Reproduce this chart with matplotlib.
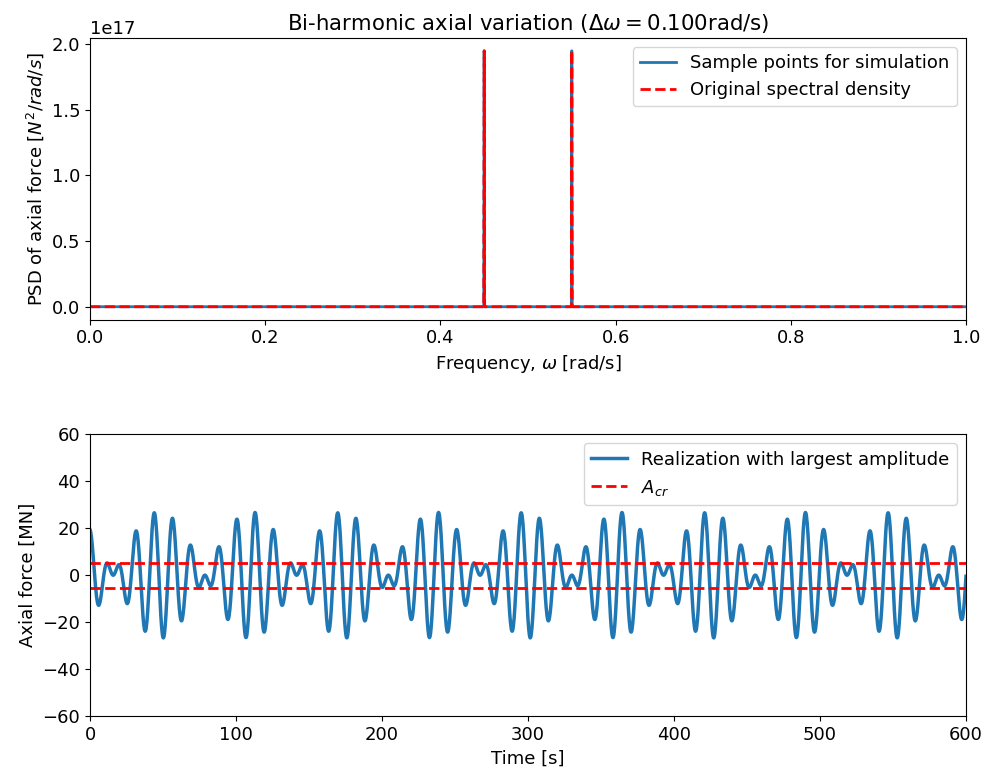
import numpy as np
import matplotlib
matplotlib.use("Agg")
import matplotlib.pyplot as plt

# spectral components (rad/s, N^2/(rad/s))
freq_points = [0.0, 0.4495, 0.45, 0.4505, 0.5495, 0.55, 0.5505, 1.0]
psd_sampled = [0.0, 0.0, 1.95e17, 0.0, 0.0, 1.95e17, 0.0, 0.0]
psd_original = [0.0, 0.0, 1.95e17, 0.0, 0.0, 1.95e17, 0.0, 0.0]

# harmonic components of the realization (MN, rad/s, rad)
harm_freq = [0.45, 0.55]
harm_amp = [13.5, 13.5]
harm_phase = [-0.77, 0.77]
a_cr = 5.4
t_end = 600
dt = 0.25

delta_w = harm_freq[1] - harm_freq[0]

t = np.arange(0, t_end + dt, dt)
force = np.zeros_like(t)
for w, a, p in zip(harm_freq, harm_amp, harm_phase):
    force += a * np.cos(w * t + p)

fs = 13
fig, (ax1, ax2) = plt.subplots(2, 1, figsize=(9.87, 7.8), dpi=100)

ax1.plot(freq_points, psd_sampled, color='#1f77b4', lw=2, label='Sample points for simulation')
ax1.plot(freq_points, psd_original, 'r--', lw=2, label='Original spectral density')
ax1.set_xlim(0, 1)
ax1.set_title(r'Bi-harmonic axial variation ($\Delta\omega = $%.3frad/s)' % delta_w, fontsize=15.3)
ax1.set_xlabel(r'Frequency, $\omega$ [rad/s]', fontsize=fs)
ax1.set_ylabel(r'PSD of axial force [$N^2/rad/s$]', fontsize=fs)
ax1.legend(loc='upper right', fontsize=fs)
ax1.tick_params(labelsize=fs)
ax1.yaxis.get_offset_text().set_fontsize(fs)

ax2.plot(t, force, color='#1f77b4', lw=2.5, label='Realization with largest amplitude')
ax2.plot([0, t_end], [a_cr, a_cr], 'r--', lw=2, label=r'$A_{cr}$')
ax2.plot([0, t_end], [-a_cr, -a_cr], 'r--', lw=2)
ax2.set_xlim(0, t_end)
ax2.set_ylim(-60, 60)
ax2.set_xlabel('Time [s]', fontsize=fs)
ax2.set_ylabel('Axial force [MN]', fontsize=fs)
ax2.legend(loc='upper right', fontsize=fs)
ax2.tick_params(labelsize=fs)

plt.subplots_adjust(left=0.0912, right=0.9787, top=0.9513, bottom=0.0821, hspace=0.408)
plt.savefig('out.png', dpi=100)
